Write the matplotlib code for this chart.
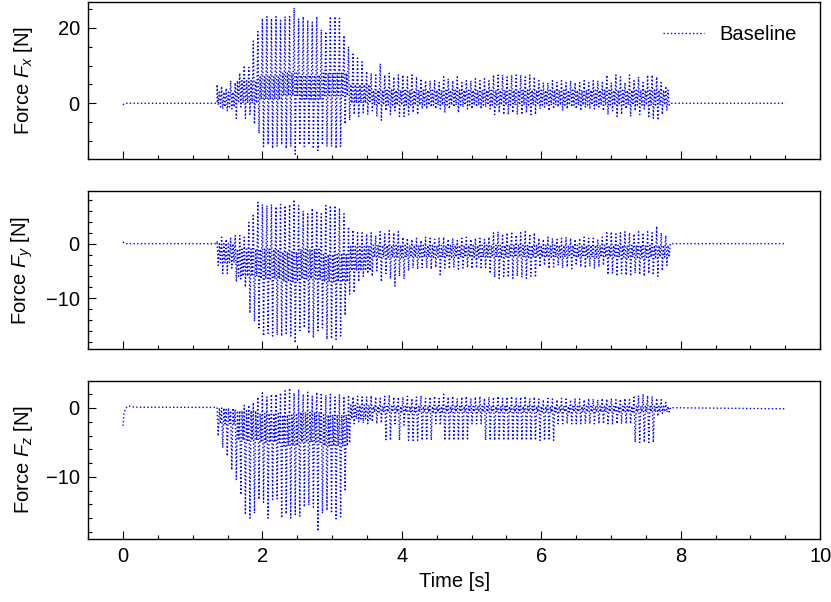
import numpy as np
import matplotlib
matplotlib.use("Agg")
import matplotlib.pyplot as plt
from matplotlib.ticker import MultipleLocator

plt.rcParams["font.family"] = ["Liberation Sans", "DejaVu Sans"]
plt.rcParams["font.size"] = 14.5
plt.rcParams["mathtext.fontset"] = "custom"
plt.rcParams["mathtext.rm"] = "Liberation Sans"
plt.rcParams["mathtext.it"] = "Liberation Sans:italic"

# oscillation: one peak/trough pair per cycle
cycle_start = 1.35
cycle_period = 0.065

# band (dense centre) per time segment
band_edges = [1.35, 1.6, 1.9, 2.2, 2.5, 2.8, 3.2, 3.5, 7.9]

# --- Fx ---
fx_pre_t = [0.0, 0.03, 1.35]
fx_pre_v = [-0.4, 0.0, 0.0]
fx_hi = [5, 4.5, 4, 6, 5.5, 8, 10, 9.5, 16.5, 19,
         22.5, 23, 22.5, 23, 22, 23, 23, 25.3, 22.5, 23,
         22, 21.5, 23, 19.5, 19, 23, 23, 22.5, 18,
         15, 13, 12, 11,
         8.5, 8, 7.5, 10.5, 7.5, 8, 7, 7.5,
         7.5, 7, 7.5, 7, 6.5, 6, 6, 6, 5.5, 7, 6.5, 6, 7, 5.5, 6, 6, 6.5, 6, 6.5, 6,
         7.5, 7.5, 7.5, 7, 7.5, 7.5, 7.5, 7, 7.5, 7,
         6, 5.5, 5.5, 6, 5.5, 6, 5.5, 6, 5.5, 5.5, 6, 5.5, 6, 6, 5.5,
         7.5, 5.5, 7.5, 7, 5.5, 7.5, 6, 7, 5.5, 7.5, 7.5, 7, 5.5, 4.5]
fx_lo = [-0.5, -1.5, -2, -1.5, -4, -1, -4, -3, -5.5, -8,
         -11.5, -11, -12, -11.5, -11, -12, -11.5, -13.5, -11, -11.5,
         -11, -12, -12.5, -11, -11.5, -11.5, -12, -11.5, -5.5,
         -4.5, -3, -3.5, -2.5,
         -3, -2, -3.5, -4.5, -2, -3, -2, -3.5,
         -3.5, -3, -2.5, -3, -1.5, -1.5, -1, -1.5, -1.5, -2.5, -1.5, -1, -2.5, -1, -1.5, -1.5, -1, -1.5, -1, -1.5,
         -3, -2.5, -3, -3, -2.5, -3, -3, -2.5, -3, -3,
         -1.5, -1, -2, -1.5, -1, -2, -1.5, -1, -1.5, -2, -1, -1.5, -1.5, -1, -2,
         -3, -2, -3.5, -3, -1.5, -3.5, -2, -3, -1.5, -3.5, -4, -4.5, -3, -2]
fx_band_lo = [-1, 0, 1, 2, 1, 2, 0, -0.5]
fx_band_hi = [3, 6, 7, 8, 7.5, 8, 5, 3.5]
fx_post_t = [7.85, 9.5]
fx_post_v = [0.0, 0.0]

# --- Fy ---
fy_pre_t = [0.0, 0.03, 1.35]
fy_pre_v = [0.3, 0.0, 0.0]
fy_hi = [0.5, 1.2, 0.8, 1, 1.5, 1.5, 1.2, 3.9, 5.5, 7.6,
         7.2, 7, 7.2, 6.8, 7.2, 7, 7.2, 8.1, 7, 6,
         5.5, 6.5, 6, 5.5, 7, 7, 7, 6.5, 5.5,
         3.1, 2.5, 2, 2,
         1.8, 2, 1.5, 2.2, 1.8, 2.4, 2, 2.2,
         1.2, 1, 0.8, 1, 0.6, 1.2, 1, 0.8, 1, 1.2, 0.8, 1, 0.6, 1, 1.2, 0.8, 1, 1, 0.8, 1.2,
         2, 2.2, 1.8, 2, 2.2, 1.6, 2, 2.2, 1.8, 2,
         1, 0.8, 1.2, 1, 0.8, 1, 1.2, 1, 0.8, 1, 1.2, 1, 1, 0.8, 1.2,
         2, 2.2, 1.8, 2, 2.2, 2, 1.8, 2.2, 2, 2.2, 2, 3.2, 2, 1.5]
fy_lo = [-4, -5.5, -5.5, -4.5, -7, -6.5, -8, -12.8, -14.3, -15.5,
         -17, -16.5, -17, -16.8, -17, -16.5, -17, -18.3, -16, -15.5,
         -16.5, -17.3, -16, -15.5, -17.6, -17.5, -17.6, -17, -13.2,
         -9.3, -9, -7, -6,
         -5.5, -6, -5, -7, -5.5, -6.5, -7.8, -6,
         -6.5, -5, -4.5, -4.7, -4.4, -4.5, -4.7, -4.4, -6, -4.5, -4.6, -4.4, -4.7, -4.5, -4.4, -4.6, -4.5, -4.7, -4.4, -5.5,
         -6.2, -6.4, -6, -6.2, -6.4, -6, -6.2, -6.4, -6, -6.2,
         -4.3, -4, -4.6, -4.3, -4, -4.5, -4.3, -4.6, -4, -4.3, -4.5, -4.2, -4.6, -4.3, -4,
         -5.7, -5.4, -6, -5.5, -5.8, -6, -5.4, -5.7, -6, -5.5, -5.8, -6, -5, -4]
fy_band_lo = [-3.5, -6, -6.5, -7, -6.5, -7, -5, -2.5]
fy_band_hi = [0, -1, -1, -1.5, -1, -2, -0.5, -0.3]
fy_post_t = [7.85, 9.5]
fy_post_v = [0.0, 0.0]

# --- Fz ---
fz_pre_t = [0.0, 0.015, 0.04, 0.085, 0.16, 1.35]
fz_pre_v = [-2.6, -0.8, 0.0, 0.3, 0.12, 0.08]
fz_hi = [0, 0, -0.2, -0.4, -0.2, -0.4, 0.4, 0.4, 0.8, 1.6,
         2.2, 1.6, 2, 2, 2.2, 2.5, 2.9, 2.2, 2.7, 2,
         2.3, 1.7, 2.3, 2.2, 1.9, 2, 1.6, 2, 1.7,
         1.9, 1.6, 1.7, 1.6,
         1.6, 1.8, 1.6, 1.4, 1.7, 1.9, 1.6, 1.6,
         1.6, 1.7, 1.4, 1.6, 1.8, 1.4, 1.6, 1.7, 1.4, 2, 1.6, 1.7, 1.4, 1.6, 1.7, 1.4, 1.6, 1.7, 1.4, 1.6,
         1.6, 1.7, 1.4, 1.6, 1.7, 1.4, 1.6, 1.7, 1.4, 1.6,
         1.3, 1.2, 1.4, 1.3, 1.2, 1.4, 1.3, 1.2, 1.4, 1.3, 1.2, 1.4, 1.3, 1.2, 1.4,
         1.3, 1.4, 1.2, 1.3, 1.4, 1.2, 1.8, 1.8, 2, 1.8, 1.7, 1.4, 1.2, 0.8]
fz_lo = [-4.1, -5.8, -7, -9, -10.4, -12.6, -15.5, -16, -15.3, -13.3,
         -13.7, -16, -13.3, -13.2, -16, -15.4, -16, -15.5, -15.7, -14.4,
         -14.1, -14.4, -17.9, -15.3, -14.9, -15.3, -16.1, -15.8, -12.1,
         -5.1, -2.3, -2, -2.2,
         -2.3, -2, -2.3, -2.2, -4.6, -4.7, -2.3, -4.7,
         -2.5, -4.7, -4.7, -4.7, -4.7, -4.7, -4.7, -2.3, -2.5, -4.7, -4.7, -4.7, -4.7, -4.7, -4.7, -2.3, -2.3, -2.3, -4.7, -4.7,
         -4.7, -4.7, -4.7, -4.7, -4.7, -4.7, -4.7, -4.7, -4.7, -4.7,
         -4.7, -4.7, -4.7, -4.7, -2.3, -2.3, -2.3, -2.3, -2.3, -2.3, -2.3, -2.3, -2.3, -2.3, -2.3,
         -2.3, -2.3, -2.3, -2.3, -2.3, -2.3, -5, -5, -5, -5, -5, -1.2, -0.8, -0.6]
fz_band_lo = [-2.3, -4.7, -5, -5.5, -5, -5.5, -1.6, -0.6]
fz_band_hi = [0, -0.4, -0.8, -1, -0.6, -1, 0.4, 0.25]
fz_post_t = [7.85, 9.5]
fz_post_v = [0.04, -0.12]


def build(pre_t, pre_v, hi, lo, band_lo, band_hi, post_t, post_v):
    t = list(pre_t)
    v = list(pre_v)
    for k in range(len(hi)):
        t0 = cycle_start + k * cycle_period
        seg = min(np.searchsorted(band_edges, t0, side="right") - 1, len(band_lo) - 1)
        vals = (hi[k], lo[k], band_hi[seg], band_lo[seg])
        for j, val in enumerate(vals):
            t.append(t0 + j * cycle_period / 4)
            v.append(val)
    t += post_t
    v += post_v
    return np.array(t), np.array(v)


series = [
    build(fx_pre_t, fx_pre_v, fx_hi, fx_lo, fx_band_lo, fx_band_hi, fx_post_t, fx_post_v),
    build(fy_pre_t, fy_pre_v, fy_hi, fy_lo, fy_band_lo, fy_band_hi, fy_post_t, fy_post_v),
    build(fz_pre_t, fz_pre_v, fz_hi, fz_lo, fz_band_lo, fz_band_hi, fz_post_t, fz_post_v),
]
ylabels = ["Force $F_x$ [N]", "Force $F_y$ [N]", "Force $F_z$ [N]"]
ylims = [(-14.9, 26.9), (-19.4, 9.6), (-19.0, 3.9)]
ymajor = [20, 10, 10]
yminor = [5, 2, 2]

fig, axes = plt.subplots(3, 1, figsize=(8.31, 6.02), dpi=100, sharex=True)
fig.subplots_adjust(left=0.106, right=0.987, top=0.997, bottom=0.105, hspace=0.203)

for ax, (t, v), lab, yl, ma, mi in zip(axes, series, ylabels, ylims, ymajor, yminor):
    ax.plot(t, v, ":", color="b", lw=1.0, label="Baseline")
    ax.set_ylim(*yl)
    ax.set_xlim(-0.5, 10)
    ax.set_ylabel(lab, labelpad=8)
    ax.yaxis.set_major_locator(MultipleLocator(ma))
    ax.yaxis.set_minor_locator(MultipleLocator(mi))
    ax.xaxis.set_major_locator(MultipleLocator(2))
    ax.xaxis.set_minor_locator(MultipleLocator(0.5))
    ax.tick_params(which="both", direction="in", top=False, right=False, width=0.8)
    ax.tick_params(which="major", length=5.5, pad=6)
    ax.tick_params(which="minor", length=3)
    for sp in ax.spines.values():
        sp.set_linewidth(1.0)

axes[0].legend(loc="upper right", frameon=False, borderaxespad=0.75)
axes[2].set_xlabel("Time [s]")
fig.align_ylabels(axes)

fig.savefig("out.png", dpi=100)
